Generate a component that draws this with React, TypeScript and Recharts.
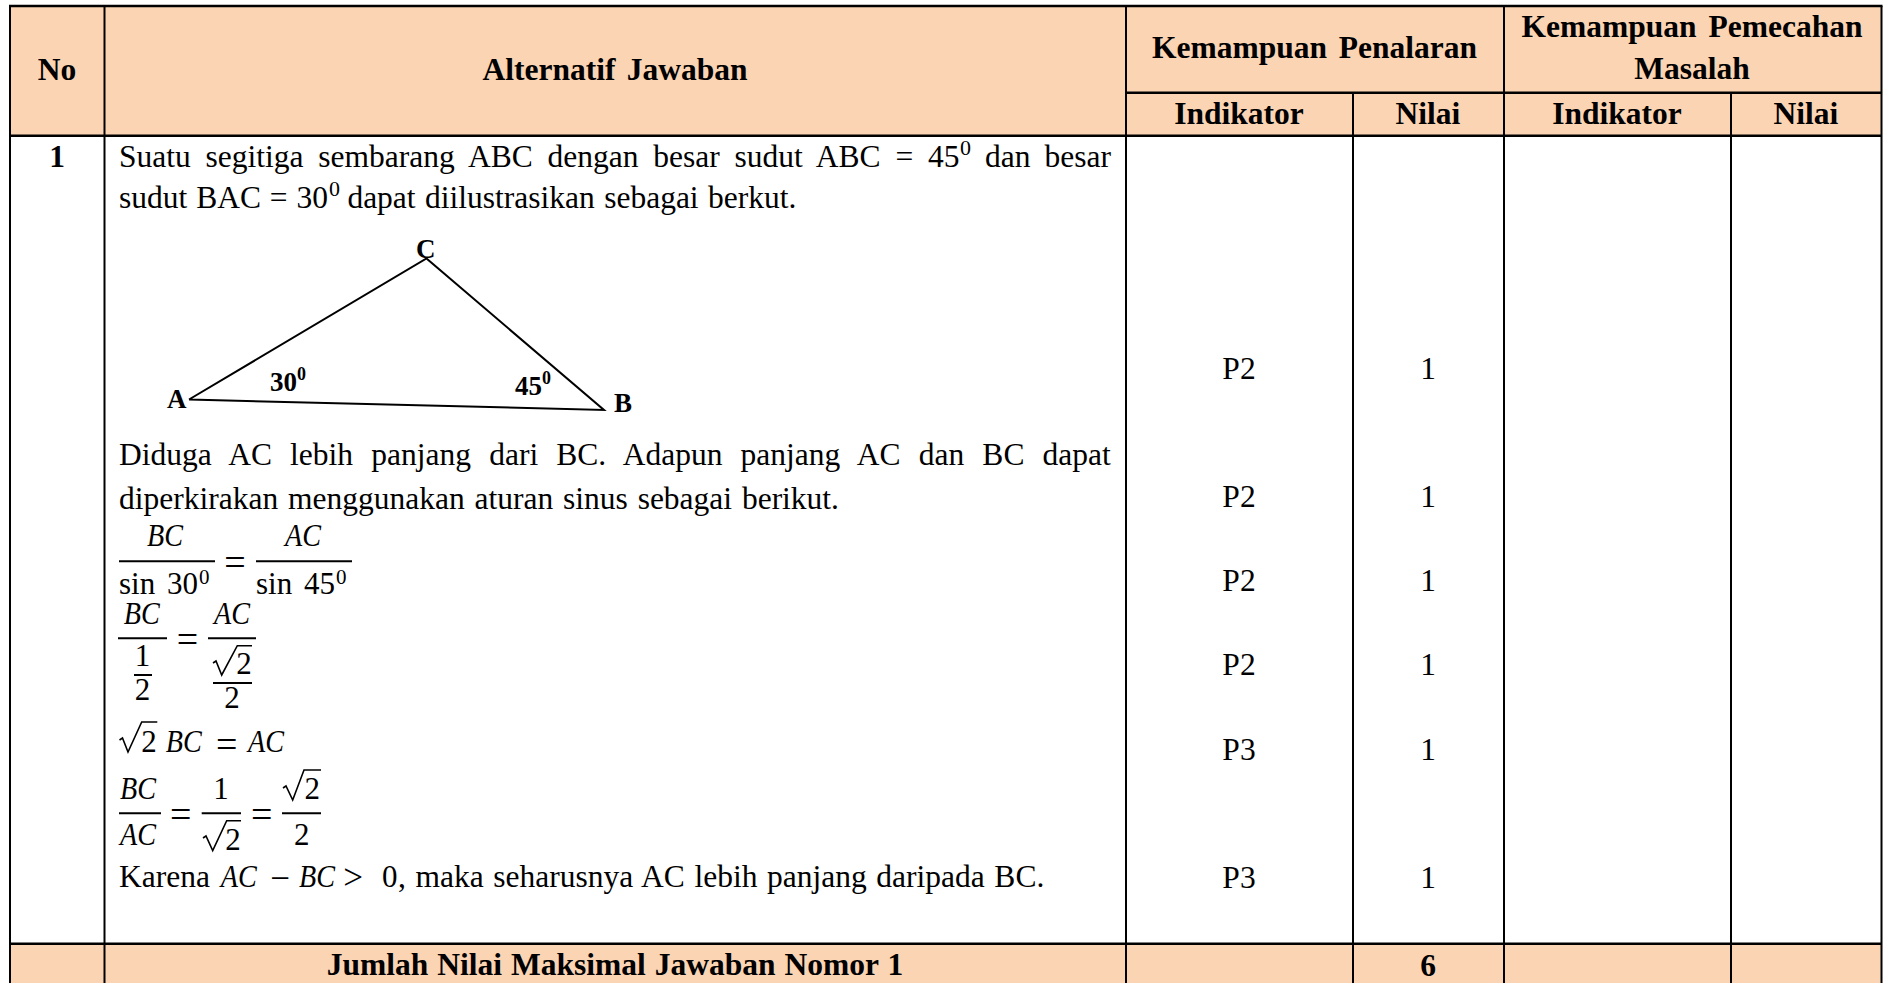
import React from "react";
import { ScatterChart, Scatter, XAxis, YAxis, ReferenceArea, ReferenceLine } from "recharts";

const W = 1887;
const H = 983;
const SERIF = "'Liberation Serif', 'Times New Roman', serif";
const PEACH = "#fbd4b4";

// table content
const indicators = ["P2", "P2", "P2", "P2", "P3", "P3"];
const scores = [1, 1, 1, 1, 1, 1];
const totalScore = 6;
const headers = ["No", "Alternatif Jawaban", "Kemampuan Penalaran", "Kemampuan Pemecahan", "Masalah"];
const subHeaders = ["Indikator", "Nilai", "Indikator", "Nilai"];
const question = ["Suatu segitiga sembarang ABC dengan besar sudut ABC = 45", "dan besar", "sudut BAC = 30", "dapat diilustrasikan sebagai berkut."];
const reasoning = ["Diduga AC lebih panjang dari BC. Adapun panjang AC dan BC dapat", "diperkirakan menggunakan aturan sinus sebagai berikut."];
const totalLabel = "Jumlah Nilai Maksimal Jawaban Nomor 1";

// grid and row positions, in axis units
const COLS = { left: 10, no: 104.5, answer: 1126, ind1: 1353, val1: 1504, ind2: 1731, right: 1881.5 };
const ROWS = { top: 6, sub: 92.7, head: 135.7, foot: 943.7 };
const SCORE_ROWS = [377.5, 505.5, 589.5, 673.5, 758.5, 886.5];

// triangle vertices A C B A
const triangle = [{ x: 189, y: 399.5 }, { x: 426.5, y: 258.5 }, { x: 604, y: 410 }, { x: 189, y: 399.5 }];

// radical signs, each one a hook running into its bar
const radicals = [
  [{ x: 213, y: 663 }, { x: 216, y: 661 }, { x: 221.7, y: 675 }, { x: 237.3, y: 645.7 }, { x: 252, y: 645.7 }],
  [{ x: 119.5, y: 740 }, { x: 122.5, y: 738 }, { x: 128, y: 752 }, { x: 141.7, y: 722 }, { x: 157.3, y: 722 }],
  [{ x: 203, y: 838 }, { x: 206, y: 836 }, { x: 212.7, y: 850.7 }, { x: 226.7, y: 820.7 }, { x: 241, y: 820.7 }],
  [{ x: 283, y: 788 }, { x: 286, y: 786 }, { x: 292.7, y: 800 }, { x: 304, y: 770 }, { x: 321, y: 770 }],
];

const fractionBars = [
  [119, 215, 561.3], [256, 352, 561.3], [118, 167, 638.3], [134, 152, 675], [208, 256, 638.3], [213, 252, 683],
  [119, 161, 813.3], [201.7, 241, 813.3], [282, 321, 813.3],
];

type Run = { x: number; y: number; text: string; size?: number; bold?: boolean; italic?: boolean; anchor?: string; width?: number; squeeze?: number };

const canvas = document.createElement("canvas").getContext("2d")!;

const BODY = 31.5;
const HEAD = 31.5;
const MATH = 31;
const SIGN = 38;

function fontOf(r: Run) {
  return `${r.italic ? "italic " : ""}${r.bold ? "700 " : "400 "}${r.size ?? BODY}px ${SERIF}`;
}

// word gap that brings a line to the width it has in the justified original
function wordGap(r: Run) {
  const gaps = r.text.split(" ").length - 1;
  if (!r.width || gaps === 0) return 0;
  canvas.font = fontOf(r);
  return (r.width - canvas.measureText(r.text).width) / gaps;
}

const mathVar = (text: string, x: number, y: number, anchor = "start"): Run => ({ x, y, text, size: MATH, italic: true, anchor, squeeze: 36 });
const mathNum = (text: string, x: number, y: number): Run => ({ x, y, text, size: MATH, anchor: "middle" });
const mathEq = (x: number, y: number): Run => ({ x, y, text: "=", size: SIGN, anchor: "middle" });

const runs: Run[] = [
  { x: 57, y: 79, text: headers[0], size: HEAD, bold: true, anchor: "middle" },
  { x: 615, y: 79, text: headers[1], size: HEAD, bold: true, anchor: "middle", width: 265 },
  { x: 1314.5, y: 57, text: headers[2], size: HEAD, bold: true, anchor: "middle", width: 325 },
  { x: 1692, y: 36, text: headers[3], size: HEAD, bold: true, anchor: "middle", width: 341 },
  { x: 1692, y: 78, text: headers[4], size: HEAD, bold: true, anchor: "middle" },
  { x: 1239, y: 122.7, text: subHeaders[0], size: HEAD, bold: true, anchor: "middle" },
  { x: 1428, y: 122.7, text: subHeaders[1], size: HEAD, bold: true, anchor: "middle" },
  { x: 1617, y: 122.7, text: subHeaders[2], size: HEAD, bold: true, anchor: "middle" },
  { x: 1806, y: 122.7, text: subHeaders[3], size: HEAD, bold: true, anchor: "middle" },
  { x: 57, y: 166, text: "1", size: HEAD, bold: true, anchor: "middle" },

  { x: 119, y: 165.7, text: question[0], width: 844 },
  { x: 960, y: 154, text: "0", size: 22 },
  { x: 985, y: 165.7, text: question[1], width: 126 },
  { x: 119, y: 207, text: question[2], width: 209 },
  { x: 329, y: 195, text: "0", size: 22 },
  { x: 347.4, y: 207, text: question[3], width: 449 },

  { x: 167, y: 407, text: "A", size: 27, bold: true },
  { x: 416, y: 257, text: "C", size: 27, bold: true },
  { x: 614, y: 410.7, text: "B", size: 27, bold: true },
  { x: 270, y: 390, text: "30", size: 27, bold: true },
  { x: 297, y: 379, text: "0", size: 18, bold: true },
  { x: 515, y: 394, text: "45", size: 27, bold: true },
  { x: 542, y: 383, text: "0", size: 18, bold: true },

  { x: 119, y: 464, text: reasoning[0], width: 997 },
  { x: 119, y: 508, text: reasoning[1], width: 720 },

  mathVar("BC", 165, 545, "middle"),
  { x: 119, y: 592.7, text: "sin 30", size: MATH, width: 79 },
  { x: 199, y: 583, text: "0", size: 21 },
  mathEq(235, 574),
  mathVar("AC", 303, 545, "middle"),
  { x: 256, y: 592.7, text: "sin 45", size: MATH, width: 79 },
  { x: 336, y: 583, text: "0", size: 21 },

  mathVar("BC", 141.7, 622.7, "middle"),
  mathNum("1", 142.5, 665),
  mathNum("2", 142.5, 699),
  mathEq(187.5, 651),
  mathVar("AC", 232, 622.7, "middle"),
  mathNum("2", 244, 673.3),
  mathNum("2", 232, 707),

  mathNum("2", 149, 750.7),
  mathVar("BC", 165.7, 750.7),
  mathEq(226.7, 756),
  mathVar("AC", 248, 750.7),

  mathVar("BC", 138, 797.7, "middle"),
  mathVar("AC", 138, 844, "middle"),
  mathEq(180.7, 826),
  mathNum("1", 221, 797.7),
  mathNum("2", 233, 849.3),
  mathEq(261.7, 826),
  mathNum("2", 312.3, 798.3),
  mathNum("2", 301.7, 844),

  { x: 119, y: 886, text: "Karena" },
  mathVar("AC", 220.7, 886),
  { x: 280, y: 889, text: "\u2212", size: 35, anchor: "middle" },
  mathVar("BC", 299, 886),
  { x: 353, y: 888, text: ">", size: 35, anchor: "middle" },
  { x: 382, y: 886, text: "0", size: MATH },
  { x: 398, y: 886, text: ", maka seharusnya AC lebih panjang daripada BC.", width: 648 },

  { x: 615, y: 974, text: totalLabel, size: HEAD, bold: true, anchor: "middle", width: 577 },
  { x: 1428, y: 974.7, text: String(totalScore), size: HEAD, bold: true, anchor: "middle" },

  ...indicators.map((t, i) => ({ x: 1239, y: SCORE_ROWS[i], text: t, anchor: "middle" })),
  ...scores.map((v, i) => ({ x: 1428, y: SCORE_ROWS[i], text: String(v), anchor: "middle" })),
];

function TextPoint(props: any) {
  const r: Run = props.payload;
  return (
    <text
      x={props.cx}
      y={props.cy + 1}
      fontFamily={SERIF}
      fontSize={r.size ?? BODY}
      fontWeight={r.bold ? 700 : 400}
      fontStyle={r.italic ? "italic" : "normal"}
      textAnchor={r.anchor ?? "start"}
      wordSpacing={wordGap(r)}
      textLength={r.squeeze}
      lengthAdjust={r.squeeze ? "spacingAndGlyphs" : undefined}
      fill="#000"
    >
      {r.text}
    </text>
  );
}

const NoPoint = () => <g />;

function rule(x1: number, y1: number, x2: number, y2: number, width: number, key: string) {
  return (
    <ReferenceLine
      key={key}
      segment={[{ x: x1, y: y1 }, { x: x2, y: y2 }]}
      stroke="#000"
      strokeWidth={width}
      ifOverflow="visible"
    />
  );
}

export default function App() {
  return (
    <div style={{ position: "absolute", left: 0, top: 0, width: W, height: H, background: "#fff", overflow: "hidden" }}>
      <ScatterChart width={W} height={H} margin={{ top: 0, right: 0, bottom: 0, left: 0 }}>
        <XAxis type="number" dataKey="x" domain={[0, W]} hide />
        <YAxis type="number" dataKey="y" domain={[0, H]} reversed hide width={0} />

        <ReferenceArea x1={COLS.left} x2={COLS.right} y1={ROWS.top} y2={ROWS.head} fill={PEACH} fillOpacity={1} stroke="none" ifOverflow="visible" />
        <ReferenceArea x1={COLS.left} x2={COLS.right} y1={ROWS.foot} y2={H} fill={PEACH} fillOpacity={1} stroke="none" ifOverflow="visible" />

        {rule(COLS.left - 1, ROWS.top, COLS.right + 1, ROWS.top, 2.5, "top")}
        {rule(COLS.answer, ROWS.sub, COLS.right, ROWS.sub, 2.5, "sub")}
        {rule(COLS.left, ROWS.head, COLS.right, ROWS.head, 2.5, "head")}
        {rule(COLS.left, ROWS.foot, COLS.right, ROWS.foot, 2.5, "foot")}
        {[COLS.left, COLS.no, COLS.answer, COLS.val1, COLS.right].map((x, i) => rule(x, ROWS.top, x, H, 2, `v${i}`))}
        {[COLS.ind1, COLS.ind2].map((x, i) => rule(x, ROWS.sub, x, H, 2, `s${i}`))}
        {fractionBars.map(([a, b, y], i) => rule(a, y, b, y, 2, `f${i}`))}

        <Scatter data={triangle} line={{ stroke: "#000", strokeWidth: 2 }} shape={NoPoint} isAnimationActive={false} />
        {radicals.map((pts, i) => (
          <Scatter key={i} data={pts} line={{ stroke: "#000", strokeWidth: 1.6 }} shape={NoPoint} isAnimationActive={false} />
        ))}
        <Scatter data={runs} shape={TextPoint} isAnimationActive={false} />
      </ScatterChart>
    </div>
  );
}
